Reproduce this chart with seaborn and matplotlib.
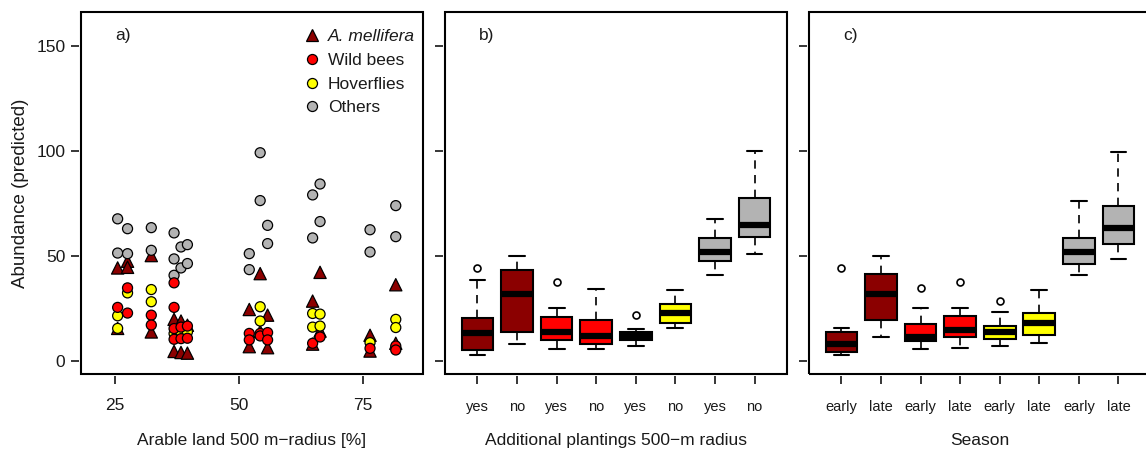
import pandas as pd
import matplotlib
matplotlib.use('Agg')
import matplotlib.pyplot as plt
from matplotlib.patches import Rectangle
import seaborn as sns

sns.set_style('white')
plt.rcParams['font.family'] = ['Liberation Sans', 'DejaVu Sans']
plt.rcParams['axes.unicode_minus'] = True
plt.rcParams['text.color'] = '#1a1a1a'
plt.rcParams['axes.labelcolor'] = '#1a1a1a'
plt.rcParams['xtick.color'] = '#1a1a1a'
plt.rcParams['ytick.color'] = '#1a1a1a'

GROUPS = ['A. mellifera', 'Wild bees', 'Hoverflies', 'Others']
GROUP_COLORS = ['#8B0000', '#FF0000', '#FFFF00', '#B3B3B3']

# panel a) - predicted abundance per site against arable land share
APIS_X = [25.5, 25.5, 27.5, 27.5, 32.3, 32.3, 36.9, 36.9, 38.3, 38.3, 39.6, 39.6, 52.1, 52.1,
          54.3, 54.3, 55.8, 55.8, 64.9, 64.9, 66.4, 66.4, 76.5, 76.5, 81.7, 81.7]
APIS_Y = [44.3, 15.5, 47.5, 44.6, 50.2, 13.8, 19.8, 4.5, 19.0, 4.0, 17.0, 3.7, 24.5, 6.8,
          41.6, 14.0, 21.8, 6.3, 28.5, 8.0, 42.2, 14.2, 12.2, 4.7, 36.3, 8.4]

WILD_X = [25.5, 27.5, 27.5, 32.3, 32.3, 36.9, 36.9, 36.9, 36.9, 38.3, 38.3, 39.6, 39.6,
          52.1, 52.1, 54.3, 54.3, 55.8, 55.8, 64.9, 66.4, 76.5, 81.7, 81.7]
WILD_Y = [25.5, 34.8, 22.8, 21.8, 17.1, 37.2, 25.5, 15.4, 10.3, 16.1, 10.6, 16.6, 10.8,
          13.1, 10.0, 13.1, 11.9, 13.5, 10.0, 8.4, 11.4, 6.0, 7.1, 5.2]

HOVER_X = [25.5, 25.5, 27.5, 32.3, 32.3, 36.9, 38.3, 39.6, 54.3, 54.3, 64.9, 64.9,
           66.4, 66.4, 76.5, 81.7, 81.7]
HOVER_Y = [21.5, 15.5, 32.4, 34.0, 28.2, 13.0, 13.5, 13.8, 25.8, 19.0, 22.6, 16.1,
           22.3, 16.6, 8.7, 19.8, 15.9]

OTHER_X = [25.5, 25.5, 27.5, 27.5, 32.3, 32.3, 36.9, 36.9, 36.9, 38.3, 38.3, 39.6, 39.6,
           52.1, 52.1, 54.3, 54.3, 55.8, 55.8, 64.9, 64.9, 66.4, 66.4, 76.5, 76.5, 81.7, 81.7]
OTHER_Y = [67.7, 51.4, 63.0, 51.1, 63.5, 52.7, 61.0, 48.6, 40.8, 54.3, 44.3, 55.4, 46.4,
           51.1, 43.5, 99.2, 76.4, 64.6, 55.9, 79.1, 58.6, 84.3, 66.4, 62.5, 51.9, 74.0, 59.2]

# panel b) - additional plantings (yes / no)
PLANT_LABELS = ['yes', 'no', 'yes', 'no', 'yes', 'no', 'yes', 'no']
PLANT_APIS_YES = [3.0, 4.2, 5.1, 9.0, 13.5, 16.5, 20.3, 38.5, 44.2]
PLANT_APIS_NO = [8.1, 11.0, 13.8, 25.0, 32.0, 38.0, 43.1, 47.0, 50.1]
PLANT_WILD_YES = [5.7, 8.0, 10.0, 12.0, 13.8, 17.0, 20.8, 25.4, 37.6]
PLANT_WILD_NO = [5.7, 7.0, 8.1, 10.0, 11.9, 15.0, 19.3, 28.0, 34.4]
PLANT_HOVER_YES = [7.1, 9.0, 10.0, 11.0, 11.9, 13.0, 13.8, 15.1, 21.7]
PLANT_HOVER_NO = [15.5, 16.8, 17.9, 20.0, 22.7, 25.0, 27.3, 30.0, 33.9]
PLANT_OTHER_YES = [41.0, 44.0, 47.4, 50.0, 51.8, 55.0, 58.8, 63.0, 67.8]
PLANT_OTHER_NO = [51.0, 56.0, 59.1, 62.0, 64.8, 70.0, 77.8, 88.0, 99.8]

# panel c) - season (early / late)
SEASON_LABELS = ['early', 'late', 'early', 'late', 'early', 'late', 'early', 'late']
SEASON_APIS_EARLY = [2.9, 3.6, 4.4, 6.5, 8.2, 11.0, 13.8, 15.5, 44.4]
SEASON_APIS_LATE = [11.6, 15.0, 19.5, 26.0, 31.9, 37.0, 41.5, 46.0, 50.1]
SEASON_WILD_EARLY = [5.5, 7.5, 9.5, 10.5, 11.6, 14.0, 17.4, 25.2, 34.7]
SEASON_WILD_LATE = [6.0, 9.0, 11.4, 13.0, 14.7, 18.0, 21.6, 25.2, 37.8]
SEASON_HOVER_EARLY = [7.1, 9.0, 10.5, 12.0, 13.9, 15.0, 16.6, 23.1, 28.4]
SEASON_HOVER_LATE = [8.7, 10.5, 12.2, 15.0, 17.9, 20.0, 22.8, 28.0, 33.9]
SEASON_OTHER_EARLY = [41.0, 44.0, 46.4, 49.0, 51.8, 55.0, 58.8, 68.0, 76.2]
SEASON_OTHER_LATE = [48.7, 52.0, 55.5, 59.0, 63.2, 68.0, 73.7, 85.0, 99.7]

BOX_COLORS = ['#8B0000', '#8B0000', '#FF0000', '#FF0000', '#FFFF00', '#FFFF00', '#B3B3B3', '#B3B3B3']

FS = 12.5


def box_frame(boxes):
    rows = []
    for i, vals in enumerate(boxes):
        for v in vals:
            rows.append((f'box{i}', v))
    return pd.DataFrame(rows, columns=['box', 'abundance'])


def style_axes(ax):
    for side in ('top', 'right', 'left', 'bottom'):
        ax.spines[side].set_visible(False)
    ax.spines['left'].set_position(('outward', 1.5))
    ax.spines['bottom'].set_position(('outward', 1.5))
    ax.add_patch(Rectangle((0, 0), 1, 1, transform=ax.transAxes, fill=False,
                           lw=1.5, ec='black', clip_on=False, zorder=5))
    ax.set_ylim(-6.4, 166.4)
    ax.set_yticks([0, 50, 100, 150])
    ax.tick_params(axis='both', direction='out', length=5.8, width=1.1, color='black',
                   left=True, bottom=True)


def draw_boxes(ax, boxes, labels, xlabel, tag):
    df = box_frame(boxes)
    keys = [f'box{i}' for i in range(len(boxes))]
    sns.boxplot(data=df, x='box', y='abundance', hue='box', order=keys, hue_order=keys,
                palette=BOX_COLORS, saturation=1, legend=False, dodge=False, width=0.8,
                linecolor='black', linewidth=1.5,
                whiskerprops=dict(linestyle=(0, (5, 3.8)), linewidth=1.2),
                capprops=dict(linewidth=1.5),
                medianprops=dict(linewidth=4.5, color='black', solid_capstyle='butt'),
                flierprops=dict(marker='o', markersize=5, markerfacecolor='none',
                                markeredgecolor='black', markeredgewidth=1.2),
                ax=ax)
    style_axes(ax)
    ax.set_xlim(-0.82, len(boxes) - 1 + 0.82)
    ax.set_xticks(range(len(boxes)))
    ax.set_xticklabels(labels)
    ax.tick_params(axis='x', labelsize=10.5, pad=11)
    ax.tick_params(axis='y', labelleft=False)
    ax.set_ylabel('')
    ax.set_xlabel(xlabel, fontsize=FS)
    ax.xaxis.set_label_coords(0.5, -0.182)
    ax.xaxis.label.set_va('center')
    ax.text(0.099, 0.934, tag, transform=ax.transAxes, ha='left', va='center', fontsize=FS)


fig = plt.figure(figsize=(11.46, 4.51), dpi=100)
ax_a = fig.add_axes([0.0707, 0.1700, 0.2984, 0.8040])
ax_b = fig.add_axes([0.3883, 0.1700, 0.2984, 0.8040])
ax_c = fig.add_axes([0.7059, 0.1700, 0.2984, 0.8040])

# scatter (draw order: honey bees, hoverflies, others, wild bees)
scatter_df = pd.concat([
    pd.DataFrame({'arable': APIS_X, 'abundance': APIS_Y, 'group': GROUPS[0]}),
    pd.DataFrame({'arable': HOVER_X, 'abundance': HOVER_Y, 'group': GROUPS[2]}),
    pd.DataFrame({'arable': OTHER_X, 'abundance': OTHER_Y, 'group': GROUPS[3]}),
    pd.DataFrame({'arable': WILD_X, 'abundance': WILD_Y, 'group': GROUPS[1]}),
], ignore_index=True)

sns.scatterplot(data=scatter_df, x='arable', y='abundance', hue='group', style='group',
                size='group', hue_order=GROUPS, style_order=GROUPS, size_order=GROUPS,
                palette=dict(zip(GROUPS, GROUP_COLORS)),
                markers={GROUPS[0]: '^', GROUPS[1]: 'o', GROUPS[2]: 'o', GROUPS[3]: 'o'},
                sizes={GROUPS[0]: 78, GROUPS[1]: 52, GROUPS[2]: 52, GROUPS[3]: 52},
                edgecolor='black', linewidth=0.9, ax=ax_a)
style_axes(ax_a)
ax_a.set_xlim(18.1, 87.2)
ax_a.set_xticks([25, 50, 75])
ax_a.tick_params(axis='x', labelsize=FS, pad=10)
ax_a.tick_params(axis='y', labelsize=FS, pad=4)
ax_a.set_xlabel('Arable land 500 m\u2212radius [%]', fontsize=FS)
ax_a.set_ylabel('Abundance (predicted)', fontsize=13.5)
ax_a.xaxis.set_label_coords(0.5, -0.182)
ax_a.xaxis.label.set_va('center')
ax_a.yaxis.set_label_coords(-0.176, 0.5)
ax_a.yaxis.label.set_va('center')
ax_a.text(0.099, 0.934, 'a)', transform=ax_a.transAxes, ha='left', va='center', fontsize=FS)
sns.move_legend(ax_a, 'upper left', bbox_to_anchor=(0.654, 0.953), frameon=False, title=None,
                fontsize=FS, handlelength=0.8, handletextpad=0.55, labelspacing=0.5,
                borderpad=0, borderaxespad=0)
leg = ax_a.get_legend()
leg.get_texts()[0].set_fontstyle('italic')

draw_boxes(ax_b,
           [PLANT_APIS_YES, PLANT_APIS_NO, PLANT_WILD_YES, PLANT_WILD_NO,
            PLANT_HOVER_YES, PLANT_HOVER_NO, PLANT_OTHER_YES, PLANT_OTHER_NO],
           PLANT_LABELS, 'Additional plantings 500\u2212m radius', 'b)')
draw_boxes(ax_c,
           [SEASON_APIS_EARLY, SEASON_APIS_LATE, SEASON_WILD_EARLY, SEASON_WILD_LATE,
            SEASON_HOVER_EARLY, SEASON_HOVER_LATE, SEASON_OTHER_EARLY, SEASON_OTHER_LATE],
           SEASON_LABELS, 'Season', 'c)')

fig.savefig('out.png', dpi=100)
